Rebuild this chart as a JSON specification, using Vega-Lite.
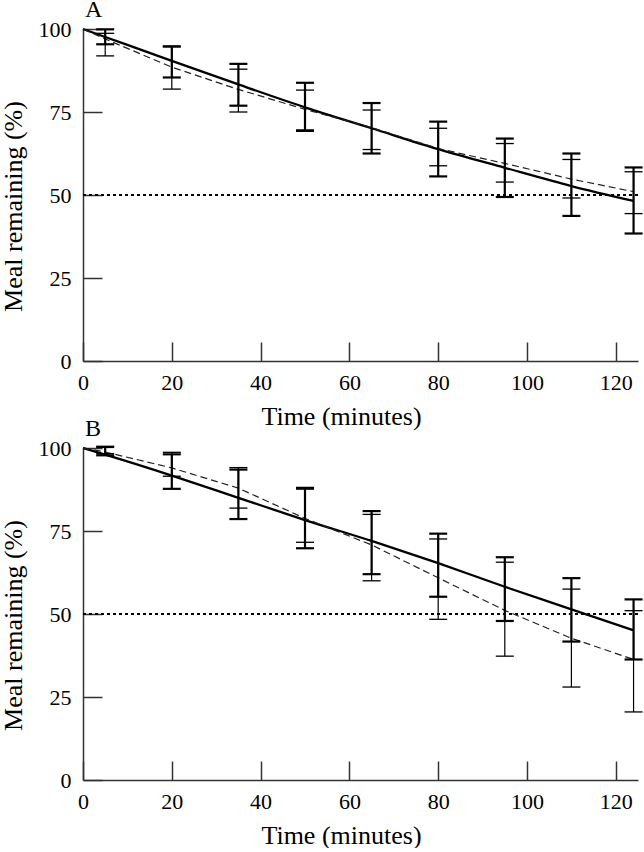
{
  "$schema": "https://vega.github.io/schema/vega-lite/v6.json",
  "background": "white",
  "padding": {"left": 0, "top": -2, "right": 0, "bottom": 0},
  "bounds": "flush",
  "spacing": 87,
  "datasets": {
    "pts": [
      {"panel": "A", "series": "solid", "time": 0, "value": 100, "lo": null, "hi": null},
      {"panel": "A", "series": "solid", "time": 5, "value": 97.6, "lo": 95.4, "hi": 99.9},
      {"panel": "A", "series": "solid", "time": 20, "value": 90.4, "lo": 85.4, "hi": 94.8},
      {"panel": "A", "series": "solid", "time": 35, "value": 83.3, "lo": 76.9, "hi": 89.5},
      {"panel": "A", "series": "solid", "time": 50, "value": 76.4, "lo": 69.3, "hi": 83.8},
      {"panel": "A", "series": "solid", "time": 65, "value": 70.1, "lo": 62.5, "hi": 77.7},
      {"panel": "A", "series": "solid", "time": 80, "value": 63.8, "lo": 55.6, "hi": 72.1},
      {"panel": "A", "series": "solid", "time": 95, "value": 58.2, "lo": 49.4, "hi": 67.0},
      {"panel": "A", "series": "solid", "time": 110, "value": 52.7, "lo": 43.7, "hi": 62.5},
      {"panel": "A", "series": "solid", "time": 124, "value": 48.2, "lo": 38.4, "hi": 58.3},
      {"panel": "A", "series": "dashed", "time": 0, "value": 100, "lo": null, "hi": null},
      {"panel": "A", "series": "dashed", "time": 5, "value": 97.0, "lo": 91.9, "hi": 98.7},
      {"panel": "A", "series": "dashed", "time": 20, "value": 88.5, "lo": 81.9, "hi": 94.6},
      {"panel": "A", "series": "dashed", "time": 35, "value": 81.8, "lo": 75.0, "hi": 87.9},
      {"panel": "A", "series": "dashed", "time": 50, "value": 75.8, "lo": 69.6, "hi": 81.6},
      {"panel": "A", "series": "dashed", "time": 65, "value": 70.3, "lo": 63.7, "hi": 75.6},
      {"panel": "A", "series": "dashed", "time": 80, "value": 64.0, "lo": 58.8, "hi": 70.1},
      {"panel": "A", "series": "dashed", "time": 95, "value": 59.5, "lo": 53.9, "hi": 65.5},
      {"panel": "A", "series": "dashed", "time": 110, "value": 54.8, "lo": 49.1, "hi": 60.7},
      {"panel": "A", "series": "dashed", "time": 124, "value": 51.0, "lo": 44.4, "hi": 57.0},
      {"panel": "B", "series": "solid", "time": 0, "value": 100, "lo": null, "hi": null},
      {"panel": "B", "series": "solid", "time": 5, "value": 98.0, "lo": 97.8, "hi": 100.3},
      {"panel": "B", "series": "solid", "time": 20, "value": 91.7, "lo": 87.7, "hi": 98.1},
      {"panel": "B", "series": "solid", "time": 35, "value": 85.0, "lo": 78.6, "hi": 93.5},
      {"panel": "B", "series": "solid", "time": 50, "value": 78.3, "lo": 69.8, "hi": 88.0},
      {"panel": "B", "series": "solid", "time": 65, "value": 72.0, "lo": 62.0, "hi": 81.0},
      {"panel": "B", "series": "solid", "time": 80, "value": 65.3, "lo": 55.2, "hi": 74.2},
      {"panel": "B", "series": "solid", "time": 95, "value": 58.2, "lo": 47.9, "hi": 67.1},
      {"panel": "B", "series": "solid", "time": 110, "value": 51.4, "lo": 41.7, "hi": 60.8},
      {"panel": "B", "series": "solid", "time": 124, "value": 45.1, "lo": 36.3, "hi": 54.4},
      {"panel": "B", "series": "dashed", "time": 0, "value": 100, "lo": null, "hi": null},
      {"panel": "B", "series": "dashed", "time": 5, "value": 98.8, "lo": 98.3, "hi": 100.5},
      {"panel": "B", "series": "dashed", "time": 20, "value": 94.0, "lo": 91.5, "hi": 98.7},
      {"panel": "B", "series": "dashed", "time": 35, "value": 87.9, "lo": 81.9, "hi": 94.1},
      {"panel": "B", "series": "dashed", "time": 50, "value": 78.8, "lo": 71.6, "hi": 87.6},
      {"panel": "B", "series": "dashed", "time": 65, "value": 70.8, "lo": 60.0, "hi": 80.0},
      {"panel": "B", "series": "dashed", "time": 80, "value": 60.9, "lo": 48.4, "hi": 72.6},
      {"panel": "B", "series": "dashed", "time": 95, "value": 51.1, "lo": 37.3, "hi": 65.6},
      {"panel": "B", "series": "dashed", "time": 110, "value": 42.7, "lo": 28.0, "hi": 57.5},
      {"panel": "B", "series": "dashed", "time": 124, "value": 36.3, "lo": 20.5, "hi": 51.0}
    ]
  },
  "vconcat": [
    {
      "width": 555,
      "height": 332,
      "title": {"text": "A"},
      "data": {"name": "pts"},
      "transform": [{"filter": "datum.panel === 'A'"}],
      "encoding": {
        "x": {"field": "time", "type": "quantitative", "scale": {"domain": [0, 125], "nice": false}, "axis": {"title": "Time (minutes)", "values": [0, 20, 40, 60, 80, 100, 120]}},
        "y": {"field": "value", "type": "quantitative", "scale": {"domain": [0, 100], "nice": false}, "axis": {"title": "Meal remaining (%)", "values": [0, 25, 50, 75, 100]}}
      },
      "layer": [
        {"mark": {"type": "rule", "strokeDash": [3, 3], "strokeWidth": 1, "color": "black"}, "encoding": {"x": null, "y": {"datum": 50}}},
        {"transform": [{"filter": "datum.series === 'solid'"}], "mark": {"type": "line", "interpolate": "monotone", "color": "black", "strokeWidth": 2.3}},
        {"transform": [{"filter": "datum.series === 'dashed'"}], "mark": {"type": "line", "color": "#222", "strokeWidth": 1.2, "strokeDash": [7, 4]}},
        {"transform": [{"filter": "datum.series === 'solid' && datum.lo != null"}], "mark": {"type": "rule", "color": "black", "strokeWidth": 2.2}, "encoding": {"y": {"field": "lo", "type": "quantitative"}, "y2": {"field": "hi"}}},
        {"transform": [{"filter": "datum.series === 'dashed' && datum.lo != null"}], "mark": {"type": "rule", "color": "black", "strokeWidth": 1.2}, "encoding": {"y": {"field": "lo", "type": "quantitative"}, "y2": {"field": "hi"}}},
        {"transform": [{"filter": "datum.series === 'solid' && datum.lo != null"}], "mark": {"type": "tick", "orient": "horizontal", "color": "black", "size": 18, "thickness": 2.2, "opacity": 1}, "encoding": {"y": {"field": "lo", "type": "quantitative"}}},
        {"transform": [{"filter": "datum.series === 'solid' && datum.lo != null"}], "mark": {"type": "tick", "orient": "horizontal", "color": "black", "size": 18, "thickness": 2.2, "opacity": 1}, "encoding": {"y": {"field": "hi", "type": "quantitative"}}},
        {"transform": [{"filter": "datum.series === 'dashed' && datum.lo != null"}], "mark": {"type": "tick", "orient": "horizontal", "color": "black", "size": 18, "thickness": 1.3, "opacity": 1}, "encoding": {"y": {"field": "lo", "type": "quantitative"}}},
        {"transform": [{"filter": "datum.series === 'dashed' && datum.lo != null"}], "mark": {"type": "tick", "orient": "horizontal", "color": "black", "size": 18, "thickness": 1.3, "opacity": 1}, "encoding": {"y": {"field": "hi", "type": "quantitative"}}}
      ]
    },
    {
      "width": 555,
      "height": 332,
      "title": {"text": "B"},
      "data": {"name": "pts"},
      "transform": [{"filter": "datum.panel === 'B'"}],
      "encoding": {
        "x": {"field": "time", "type": "quantitative", "scale": {"domain": [0, 125], "nice": false}, "axis": {"title": "Time (minutes)", "values": [0, 20, 40, 60, 80, 100, 120]}},
        "y": {"field": "value", "type": "quantitative", "scale": {"domain": [0, 100], "nice": false}, "axis": {"title": "Meal remaining (%)", "values": [0, 25, 50, 75, 100]}}
      },
      "layer": [
        {"mark": {"type": "rule", "strokeDash": [3, 3], "strokeWidth": 1, "color": "black"}, "encoding": {"x": null, "y": {"datum": 50}}},
        {"transform": [{"filter": "datum.series === 'solid'"}], "mark": {"type": "line", "interpolate": "monotone", "color": "black", "strokeWidth": 2.3}},
        {"transform": [{"filter": "datum.series === 'dashed'"}], "mark": {"type": "line", "color": "#222", "strokeWidth": 1.2, "strokeDash": [7, 4]}},
        {"transform": [{"filter": "datum.series === 'solid' && datum.lo != null"}], "mark": {"type": "rule", "color": "black", "strokeWidth": 2.2}, "encoding": {"y": {"field": "lo", "type": "quantitative"}, "y2": {"field": "hi"}}},
        {"transform": [{"filter": "datum.series === 'dashed' && datum.lo != null"}], "mark": {"type": "rule", "color": "black", "strokeWidth": 1.2}, "encoding": {"y": {"field": "lo", "type": "quantitative"}, "y2": {"field": "hi"}}},
        {"transform": [{"filter": "datum.series === 'solid' && datum.lo != null"}], "mark": {"type": "tick", "orient": "horizontal", "color": "black", "size": 18, "thickness": 2.2, "opacity": 1}, "encoding": {"y": {"field": "lo", "type": "quantitative"}}},
        {"transform": [{"filter": "datum.series === 'solid' && datum.lo != null"}], "mark": {"type": "tick", "orient": "horizontal", "color": "black", "size": 18, "thickness": 2.2, "opacity": 1}, "encoding": {"y": {"field": "hi", "type": "quantitative"}}},
        {"transform": [{"filter": "datum.series === 'dashed' && datum.lo != null"}], "mark": {"type": "tick", "orient": "horizontal", "color": "black", "size": 18, "thickness": 1.3, "opacity": 1}, "encoding": {"y": {"field": "lo", "type": "quantitative"}}},
        {"transform": [{"filter": "datum.series === 'dashed' && datum.lo != null"}], "mark": {"type": "tick", "orient": "horizontal", "color": "black", "size": 18, "thickness": 1.3, "opacity": 1}, "encoding": {"y": {"field": "hi", "type": "quantitative"}}}
      ]
    }
  ],
  "config": {
    "view": {"stroke": null},
    "font": "Liberation Serif",
    "title": {"font": "Liberation Serif", "fontSize": 24, "fontWeight": "normal", "color": "black", "anchor": "start", "frame": "group", "baseline": "alphabetic", "offset": -4, "dx": 2},
    "axis": {
      "grid": false,
      "domainColor": "#333",
      "domainWidth": 1.5,
      "tickColor": "#333",
      "tickWidth": 1.5,
      "tickSize": -19,
      "labelFont": "Liberation Serif",
      "labelFontSize": 22,
      "labelColor": "black",
      "titleFont": "Liberation Serif",
      "titleFontSize": 26,
      "titleFontWeight": "normal",
      "titleColor": "black"
    },
    "axisX": {"labelPadding": 30, "titleX": 258, "titleY": 63, "titleBaseline": "alphabetic", "titleAlign": "center", "labelFlush": false},
    "axisY": {"labelPadding": 31, "titleX": -57, "titleY": 177, "titleAlign": "center", "titleBaseline": "bottom", "titleAngle": -90}
  }
}
